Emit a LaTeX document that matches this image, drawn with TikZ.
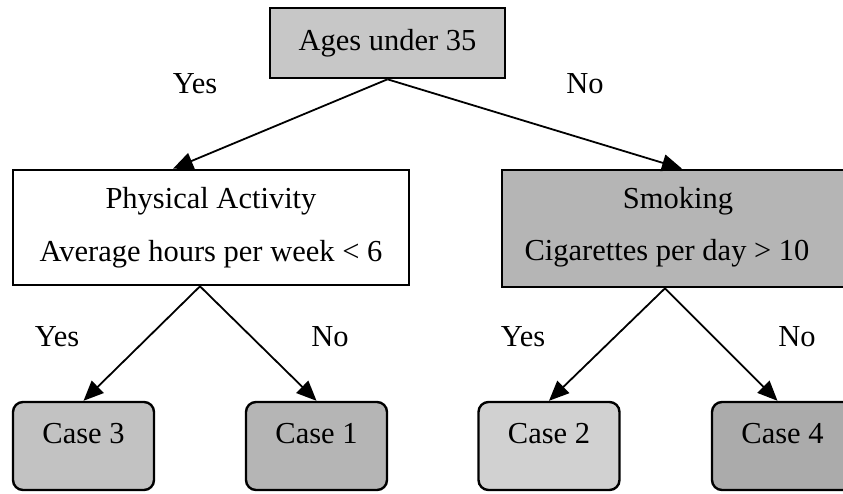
\documentclass[tikz,border=0pt]{standalone}
\usepackage{fontspec}
\setmainfont{Liberation Serif}
\usetikzlibrary{arrows.meta,calc}

\definecolor{topfill}{gray}{0.78}
\definecolor{smokefill}{gray}{0.71}
\definecolor{casethree}{gray}{0.76}
\definecolor{caseone}{gray}{0.71}
\definecolor{casetwo}{gray}{0.82}
\definecolor{casefour}{gray}{0.67}

\begin{document}
\begin{tikzpicture}[x=1pt,y=-1pt,
  every node/.style={font=\fontsize{30.5}{53}\selectfont, inner sep=0pt},
  testbox/.style={draw, line width=2.6pt, rectangle, align=center},
  casebox/.style={draw, line width=2.4pt, rounded corners=10pt,
    minimum width=141pt, text height=41pt, text depth=47pt},
  branch/.style={line width=1.8pt, -{Triangle[length=20pt,width=17pt]}},
  answer/.style={anchor=base}
]
\useasboundingbox (0,0) rectangle (843,493);

% decision boxes
\node (age) [testbox, fill=topfill, minimum width=235pt, minimum height=70pt]
  at (387.5,43) {Ages under 35};
\node (pa) [testbox, fill=white, minimum width=396pt, minimum height=115pt]
  at (211,227.5) {Physical Activity\\Average hours per week < 6};
\node (sm) [testbox, fill=smokefill, minimum width=346pt, minimum height=117pt]
  at (675,228.5) {};
\node (smA) [anchor=base] at (678,208) {Smoking};
\node (smB) [anchor=base] at (667,260) {Cigarettes per day > 10};

% outcomes
\node (c3) [casebox, fill=casethree] at (83.5,446) {Case 3};
\node (c1) [casebox, fill=caseone]   at (316.5,446) {Case 1};
\node (c2) [casebox, fill=casetwo]   at (549,446) {Case 2};
\node (c4) [casebox, fill=casefour]  at (782.5,446) {Case 4};

% branches
\draw[branch] (age.south) -- ($(pa.north)+(-38,0)$);
\draw[branch] (age.south) -- ($(sm.north)+(7,0)$);
\draw[branch] ($(pa.south)+(-11,0)$) -- (c3.north);
\draw[branch] ($(pa.south)+(-11,0)$) -- (c1.north);
\draw[branch] ($(sm.south)+(-10,0)$) -- (c2.north);
\draw[branch] ($(sm.south)+(-10,0)$) -- ($(c4.north)+(-5,0)$);

% branch answers
\node (y0) [answer] at (195,93) {Yes};
\node (n0) [answer] at (585,93) {No};
\node (y1) [answer] at (57,346) {Yes};
\node (n1) [answer] at (330,346) {No};
\node (y2) [answer] at (523,346) {Yes};
\node (n2) [answer] at (797,346) {No};
\end{tikzpicture}
\end{document}
